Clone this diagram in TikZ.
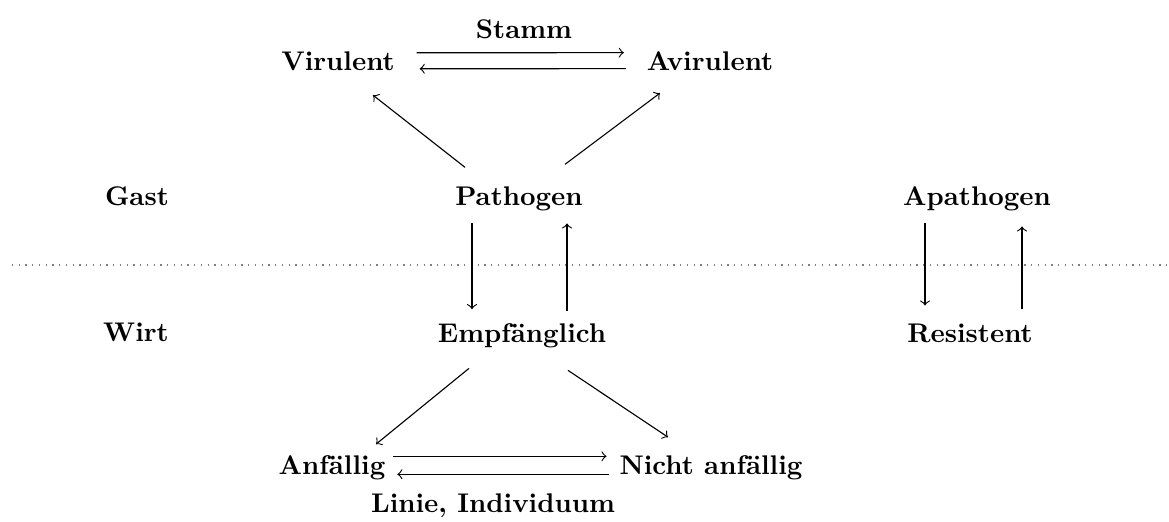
\documentclass[tikz,border=0pt]{standalone}
\usetikzlibrary{calc}

\begin{document}
\begin{tikzpicture}[x=0.0125cm, y=-0.0125cm,
  every node/.style={font=\fontsize{9.6}{11.5}\selectfont\bfseries, anchor=base}]
  \useasboundingbox (0,0) rectangle (1169,522);
  \node (stamm) at (524,38) {Stamm};
  \node (vir) at (338,70) {Virulent};
  \node (avi) at (710,70) {Avirulent};
  \node (gast) at (137,205) {Gast};
  \node (pat) at (519,205) {Pathogen};
  \node (apa) at (977,205) {Apathogen};
  \node (wirt) at (136,341) {Wirt};
  \node (emp) at (522,342) {Empfänglich};
  \node (res) at (970,342) {Resistent};
  \node (anf) at (332,474) {Anfällig};
  \node (nic) at (711,474) {Nicht anfällig};
  \node (lin) at (493,512) {Linie, Individuum};
  \draw[gray, dotted] (12,265) -- (1169,265);
  \draw[->] ($(vir.east)+(12,-8)$) -- ($(avi.west)+(-13,-8)$);
  \draw[->] ($(avi.west)+(-11,8)$) -- ($(vir.east)+(15,8)$);
  \draw[->] ($(pat.north)+(-54,-9)$) -- ($(vir.south)+(35,15)$);
  \draw[->] ($(pat.north)+(46,-12)$) -- ($(avi.south)+(-50,13)$);
  \draw[->] ($(pat.south)+(-47,3)$) -- ($(emp.north)+(-50,-4)$);
  \draw[->] ($(emp.north)+(45,-2)$) -- ($(pat.south)+(48,3)$);
  \draw[->] ($(apa.south)+(-52,3)$) -- ($(res.north)+(-45,-8)$);
  \draw[->] ($(res.north)+(52,-5)$) -- ($(apa.south)+(45,6)$);
  \draw[->] ($(emp.south)+(-53,11)$) -- ($(anf.north)+(44,-1)$);
  \draw[->] ($(emp.south)+(46,13)$) -- ($(nic.north)+(-43,-8)$);
  \draw[->] ($(anf.east)+(-2,-11)$) -- ($(nic.west)+(-3,-11)$);
  \draw[->] ($(nic.west)+(-1,7)$) -- ($(anf.east)+(2,7)$);
\end{tikzpicture}
\end{document}
